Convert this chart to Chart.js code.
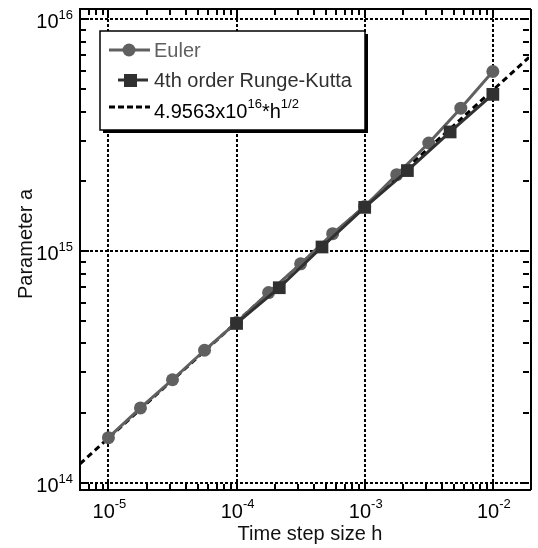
<!DOCTYPE html>
<html>
<head>
<meta charset="utf-8">
<script src="https://cdn.jsdelivr.net/npm/chart.js@4.4.1/dist/chart.umd.min.js"></script>
<style>
    html, body { margin: 0; padding: 0; background: #fff; }
</style>
</head>
<body>
<canvas id="chart1" width="538" height="548"></canvas>
<script>
// Datos: paso de tiempo h y parámetro a.
const eulerH = [1e-5, 1.778e-5, 3.162e-5, 5.623e-5, 1e-4, 1.778e-4, 3.162e-4, 5.623e-4, 1e-3, 1.778e-3, 3.162e-3, 5.623e-3, 1e-2];
const eulerA = [1.57e14, 2.11e14, 2.79e14, 3.74e14, 4.93e14, 6.63e14, 8.82e14, 1.19e15, 1.56e15, 2.14e15, 2.93e15, 4.14e15, 5.96e15];
const rkH = [1e-4, 2.154e-4, 4.642e-4, 1e-3, 2.154e-3, 4.642e-3, 1e-2];
const rkA = [4.88e14, 6.96e14, 1.043e15, 1.546e15, 2.228e15, 3.27e15, 4.75e15];
// Recta de ajuste: extremos donde toca el marco.
const ajusteH = [6.0e-6, 1.915e-2];
const ajusteA = [1.21e14, 6.86e15];

// Marcas y etiquetas de los ejes.
const xTicks = [1e-5, 1e-4, 1e-3, 1e-2];
const xTickExp = ['-5', '-4', '-3', '-2'];
const yTicks = [1e14, 1e15, 1e16];
const yTickExp = ['14', '15', '16'];
const xRango = [6.0e-6, 1.915e-2];
const yRango = [9.333e13, 1.109e16];

// Textos.
const tituloX = 'Time step size h';
const tituloY = 'Parameter a';
const nombreEuler = 'Euler';
const nombreRK = '4th order Runge-Kutta';
const nombreAjuste = [['4.9563x10', false], ['16', true], ['*h', false], ['1/2', true]];

const FUENTE = '"Liberation Sans", Arial, Helvetica, sans-serif';
const GRIS = '#606060';
const OSCURO = '#303030';

// Une dos arreglos en puntos {x, y}.
const puntos = (xs, ys) => xs.map((v, i) => ({ x: v, y: ys[i] }));

// Escribe texto con partes en superíndice.
const textoMixto = (ctx, partes, x, y, align, size, supSize, subida) => {
    let total = 0;
    const anchos = partes.map(([t, sup]) => {
        ctx.font = `${sup ? supSize : size}px ${FUENTE}`;
        const w = ctx.measureText(t).width;
        total += w;
        return w;
    });
    let x0 = align === 'center' ? x - total / 2 : (align === 'right' ? x - total : x);
    ctx.textAlign = 'left';
    ctx.textBaseline = 'alphabetic';
    partes.forEach(([t, sup], i) => {
        ctx.font = `${sup ? supSize : size}px ${FUENTE}`;
        ctx.fillText(t, x0, sup ? y - subida : y);
        x0 += anchos[i];
    });
};

// Línea simple.
const linea = (ctx, x1, y1, x2, y2) => {
    ctx.beginPath();
    ctx.moveTo(x1, y1);
    ctx.lineTo(x2, y2);
    ctx.stroke();
};

// Plugin para rejilla punteada, marco, marcas menores, etiquetas y leyenda.
const ejesPlugin = {
    id: 'ejes',
    beforeDatasetsDraw(chart) {
        const { ctx, chartArea: a, scales: { x, y } } = chart;
        ctx.save();
        ctx.strokeStyle = '#000';
        ctx.lineWidth = 2;
        ctx.setLineDash([3, 2]);
        xTicks.forEach(v => {
            const px = Math.round(x.getPixelForValue(v));
            linea(ctx, px, a.top, px, a.bottom);
        });
        yTicks.forEach(v => {
            const py = Math.round(y.getPixelForValue(v));
            linea(ctx, a.left, py, a.right, py);
        });
        ctx.restore();
    },
    afterDatasetsDraw(chart) {
        const { ctx, chartArea: a, scales: { x, y } } = chart;
        ctx.save();
        ctx.strokeStyle = '#000';
        ctx.lineWidth = 2;
        // Marcas menores y mayores hacia adentro en los cuatro lados.
        for (let e = -6; e <= -2; e++) {
            for (let k = 1; k <= 9; k++) {
                const v = k * Math.pow(10, e);
                if (v < xRango[0] || v > xRango[1]) continue;
                const px = Math.round(x.getPixelForValue(v));
                const largo = k === 1 ? 9 : 6;
                linea(ctx, px, a.bottom, px, a.bottom - largo);
                linea(ctx, px, a.top, px, a.top + largo);
            }
        }
        for (let e = 13; e <= 16; e++) {
            for (let k = 1; k <= 9; k++) {
                const v = k * Math.pow(10, e);
                if (v < yRango[0] || v > yRango[1]) continue;
                const py = Math.round(y.getPixelForValue(v));
                const largo = k === 1 ? 9 : 6;
                linea(ctx, a.left, py, a.left + largo, py);
                linea(ctx, a.right, py, a.right - largo, py);
            }
        }
        // Marco.
        linea(ctx, a.left, a.top - 1, a.left, a.bottom + 1);
        linea(ctx, a.left, a.top, a.right + 2, a.top);
        linea(ctx, a.left, a.bottom, a.right + 2, a.bottom);
        linea(ctx, a.right + 2, a.top, a.right + 2, a.bottom);

        // Etiquetas de las marcas.
        ctx.fillStyle = '#000';
        xTicks.forEach((v, i) => {
            const px = x.getPixelForValue(v);
            textoMixto(ctx, [['10', false], [xTickExp[i], true]], px + 1, 518, 'center', 20, 13, 10);
        });
        yTicks.forEach((v, i) => {
            const py = y.getPixelForValue(v);
            textoMixto(ctx, [['10', false], [yTickExp[i], true]], 73, py + 8.5, 'right', 20, 13, 9);
        });

        // Títulos de los ejes.
        ctx.font = `20px ${FUENTE}`;
        ctx.textAlign = 'center';
        ctx.textBaseline = 'alphabetic';
        ctx.fillStyle = '#111';
        ctx.fillText(tituloX, 310, 540);
        ctx.save();
        ctx.translate(32, 244);
        ctx.rotate(-Math.PI / 2);
        ctx.fillText(tituloY, 0, 0);
        ctx.restore();

        // Leyenda con sombra.
        const lx = 100, ly = 31, lw = 265, lh = 99;
        ctx.fillStyle = '#000';
        ctx.fillRect(lx + 3, ly + 3, lw, lh);
        ctx.fillStyle = '#fff';
        ctx.fillRect(lx, ly, lw, lh);
        ctx.lineWidth = 1.5;
        ctx.strokeRect(lx, ly, lw, lh);

        // Fila Euler.
        ctx.strokeStyle = GRIS;
        ctx.lineWidth = 3;
        linea(ctx, 109, 50, 150, 50);
        ctx.fillStyle = GRIS;
        ctx.beginPath();
        ctx.arc(129, 50, 6.5, 0, Math.PI * 2);
        ctx.fill();
        ctx.font = `20px ${FUENTE}`;
        ctx.textAlign = 'left';
        ctx.fillText(nombreEuler, 154, 57);

        // Fila Runge-Kutta.
        ctx.strokeStyle = OSCURO;
        linea(ctx, 118, 80, 148, 80);
        ctx.fillStyle = OSCURO;
        ctx.fillRect(124, 74, 13, 13);
        ctx.fillText(nombreRK, 154, 87);

        // Fila del ajuste.
        ctx.strokeStyle = '#000';
        ctx.setLineDash([6, 3]);
        linea(ctx, 109, 107, 150, 107);
        ctx.setLineDash([]);
        ctx.fillStyle = '#000';
        textoMixto(ctx, nombreAjuste, 154, 118, 'left', 20, 13, 10);
        ctx.restore();
    }
};

// Función para generar el gráfico log-log.
const graficoConvergencia = () => {
    const ctx = document.getElementById('chart1').getContext('2d');
    new Chart(ctx, {
        type: 'line',
        data: {
            datasets: [{
                label: nombreRK,
                data: puntos(rkH, rkA),
                borderColor: OSCURO,
                backgroundColor: OSCURO,
                borderWidth: 3,
                pointStyle: 'rect',
                pointRadius: 9,
                pointBorderWidth: 0,
                order: 0
            }, {
                label: nombreEuler,
                data: puntos(eulerH, eulerA),
                borderColor: GRIS,
                backgroundColor: GRIS,
                borderWidth: 3,
                pointStyle: 'circle',
                pointRadius: 6.5,
                pointBorderWidth: 0,
                order: 1
            }, {
                label: 'ajuste',
                data: puntos(ajusteH, ajusteA),
                borderColor: '#000',
                borderWidth: 3,
                borderDash: [6, 4],
                pointRadius: 0,
                order: 2
            }]
        },
        options: {
            responsive: false,
            animation: false,
            devicePixelRatio: 1,
            layout: { padding: { left: 80, top: 5, right: 0, bottom: 58 } },
            scales: {
                x: { type: 'logarithmic', display: false, min: xRango[0], max: xRango[1] },
                y: { type: 'logarithmic', display: false, min: yRango[0], max: yRango[1] }
            },
            plugins: {
                legend: { display: false },
                tooltip: { enabled: false }
            }
        },
        plugins: [ejesPlugin]
    });
};

graficoConvergencia();
</script>
</body>
</html>
